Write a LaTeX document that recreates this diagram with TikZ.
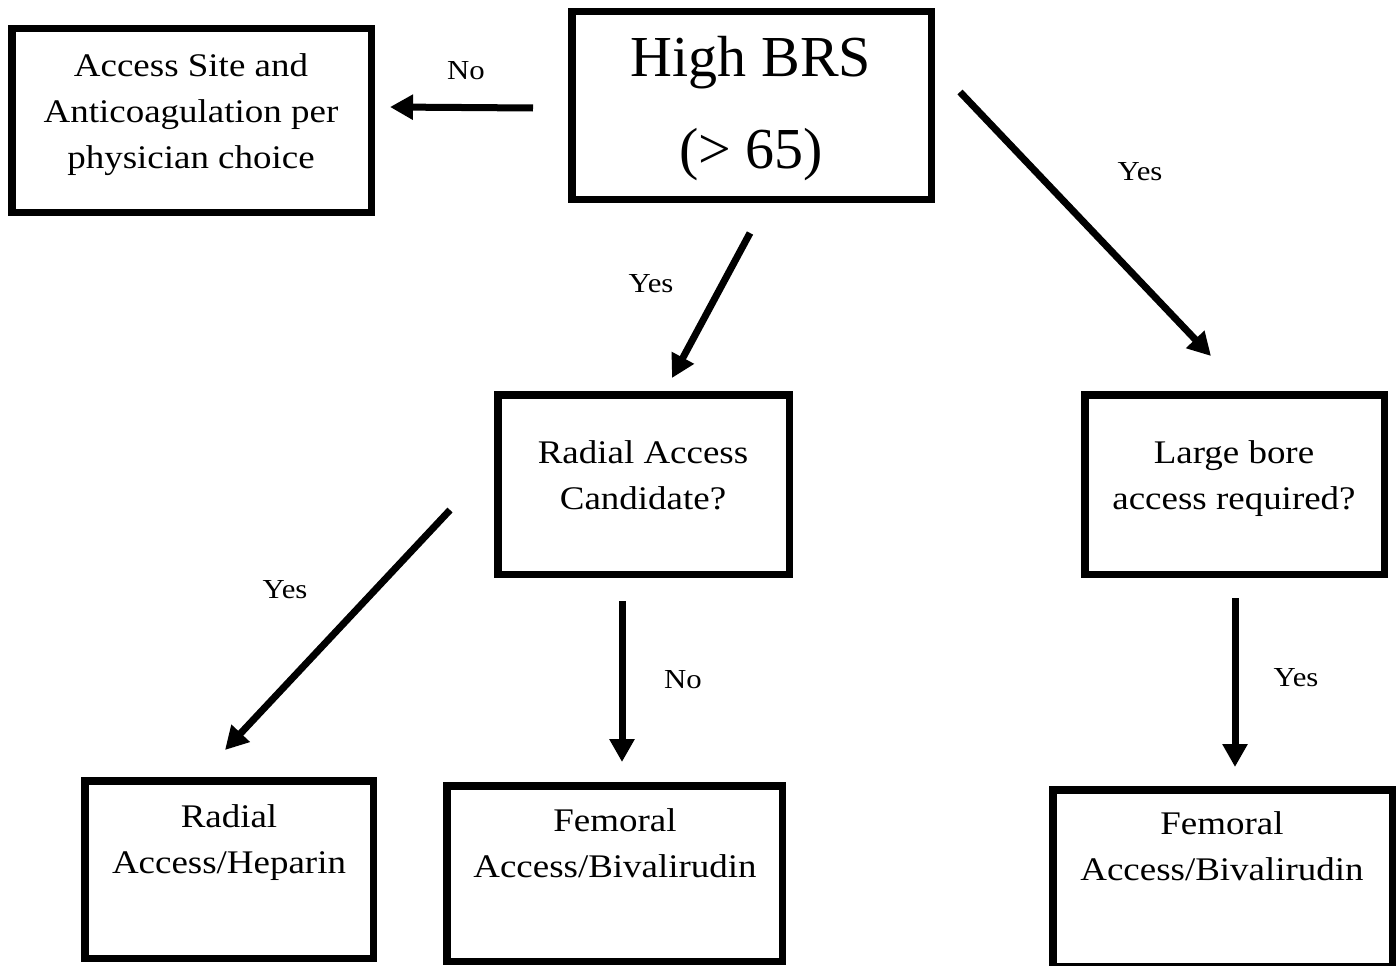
\documentclass[tikz,border=0pt]{standalone}
\usepackage{fontspec}
\setmainfont{Liberation Serif}
\newfontfamily\widefont[FakeStretch=1.12]{Liberation Serif}
\usetikzlibrary{arrows.meta}
\begin{document}
\begin{tikzpicture}[x=1pt,y=-1pt,
  box/.style={draw, line width=7.5pt, inner sep=0pt},
  txt/.style={font=\widefont\fontsize{33}{46}\selectfont, align=center, inner sep=0pt},
  bigtxt/.style={font=\fontsize{58}{92}\selectfont, align=center, inner sep=0pt},
  lbl/.style={font=\widefont\fontsize{27.5}{30}\selectfont, inner sep=0pt},
  arr/.style={line width=7pt, -{Triangle[length=23pt,width=24pt]}}]
\useasboundingbox[fill=white] (0,0) rectangle (1398,966);
% boxes
\node[box, minimum width=359.5pt, minimum height=183.5pt] (acc) at (191.5,120.5) {};
\node[box, minimum width=359.5pt, minimum height=187.5pt] (brs) at (751.5,105.5) {};
\node[box, minimum width=291.5pt, minimum height=179.5pt] (rc) at (643.5,484.5) {};
\node[box, minimum width=299.5pt, minimum height=179.5pt] (lb) at (1234.5,484.5) {};
\node[box, minimum width=288.5pt, minimum height=177.5pt] (rh) at (229,869.5) {};
\node[box, minimum width=335.5pt, minimum height=175.5pt] (fm) at (614.5,873.5) {};
\node[box, minimum width=339.5pt, minimum height=176.5pt] (fr) at (1222.5,878) {};
% texts
\node[txt] (acct) at (191,114.5) {Access Site and\\Anticoagulation per\\physician choice};
\node[bigtxt] (brst) at (751,109) {High BRS\\(> 65)};
\node[txt] (rct) at (643,475) {Radial Access\\Candidate?};
\node[txt] (lbt) at (1234,478.5) {Large bore\\access required?};
\node[txt] (rht) at (229,842.5) {Radial\\Access/Heparin};
\node[txt] (fmt) at (615,843.5) {Femoral\\Access/Bivalirudin};
\node[txt] (frt) at (1222,846.5) {Femoral\\Access/Bivalirudin};
% arrow end points
\coordinate (a1s) at (533,108); \coordinate (a1e) at (390,107);
\coordinate (a2s) at (750,233); \coordinate (a2e) at (672,378);
\coordinate (a3s) at (960,92);  \coordinate (a3e) at (1211,356);
\coordinate (a4s) at (450,510); \coordinate (a4e) at (225,750);
\coordinate (a5s) at (622,601); \coordinate (a5e) at (622,762);
\coordinate (a6s) at (1235,598); \coordinate (a6e) at (1235,767);
\draw[arr] (a1s) -- (a1e);
\draw[arr] (a2s) -- (a2e);
\draw[arr] (a3s) -- (a3e);
\draw[arr] (a4s) -- (a4e);
\draw[arr] (a5s) -- (a5e);
\draw[arr] (a6s) -- (a6e);
% labels
\node[lbl] (l1) at (466,71) {No};
\node[lbl] (l2) at (651,284) {Yes};
\node[lbl] (l3) at (1140,172) {Yes};
\node[lbl] (l4) at (285,590) {Yes};
\node[lbl] (l5) at (683,680) {No};
\node[lbl] (l6) at (1296,678) {Yes};
\end{tikzpicture}
\end{document}
